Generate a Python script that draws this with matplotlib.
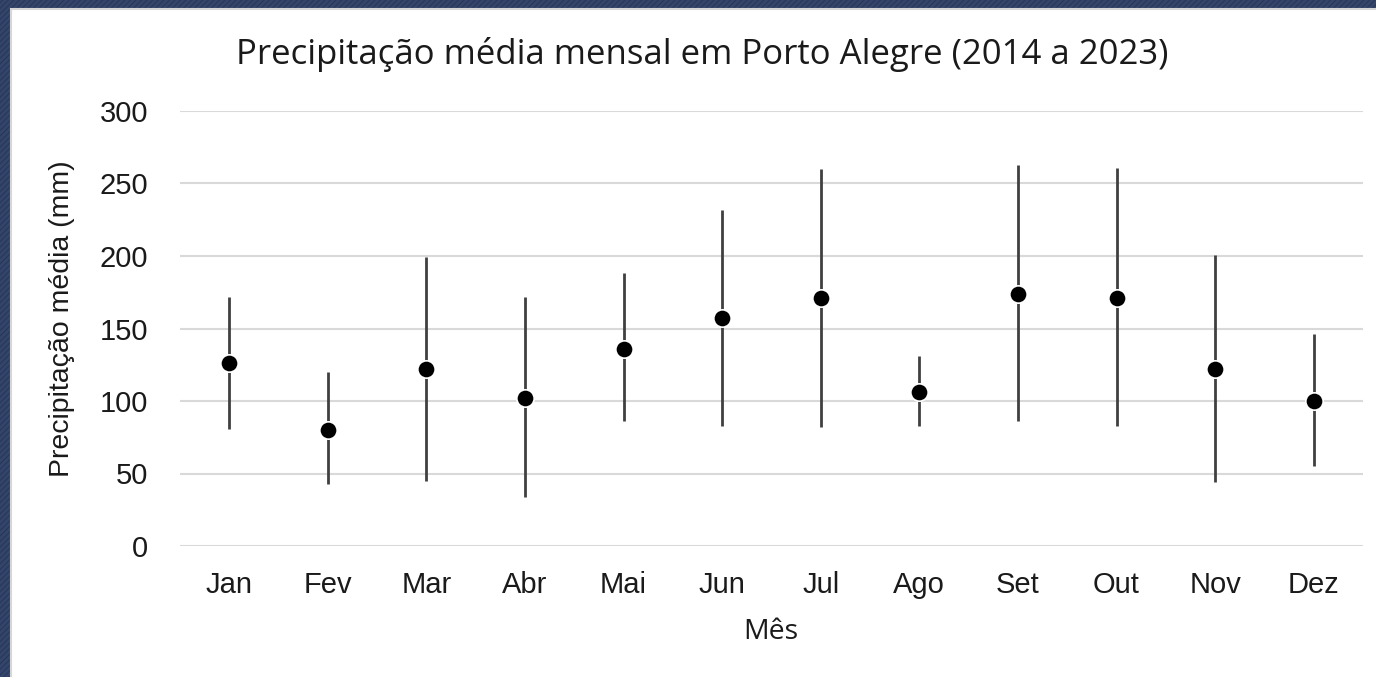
import matplotlib
matplotlib.use("Agg")
import matplotlib.pyplot as plt
from matplotlib.patches import Rectangle

months = ["Jan", "Fev", "Mar", "Abr", "Mai", "Jun", "Jul", "Ago", "Set", "Out", "Nov", "Dez"]
mean_mm = [126, 80, 122, 102, 136, 157, 171, 106, 174, 171, 122, 100]
min_mm = [81, 43, 45, 34, 86, 83, 82, 83, 86, 83, 44, 55]
max_mm = [172, 120, 199, 172, 188, 232, 260, 131, 263, 261, 201, 146]
yticks = [0, 50, 100, 150, 200, 250, 300]

W, H = 1376, 677
plt.rcParams['hatch.linewidth'] = 2.0
fig = plt.figure(figsize=(W / 100, H / 100), dpi=100)
fig.patch.set_facecolor("white")

# hatched navy frame + white panel
bg = Rectangle((0, 0), 1, 1, transform=fig.transFigure, facecolor="#283759",
               edgecolor="#34456b", hatch="//////", linewidth=0, zorder=-10)
fig.patches.append(bg)
px0, py_top = 11.5 / W, 8.5 / H
panel = Rectangle((px0, -0.01), 1.02 - px0, 1 - py_top + 0.01, transform=fig.transFigure,
                  facecolor="white", edgecolor="#d6d6d6", linewidth=1.5, zorder=-9)
fig.patches.append(panel)

ax = fig.add_axes([180 / W, (H - 546) / H, 1183 / W, 435 / H])
ax.set_facecolor("none")
x = list(range(len(months)))
ax.vlines(x, min_mm, max_mm, color="#404040", linewidth=2.0, zorder=3)
ax.plot(x, mean_mm, linestyle="none", marker="o", markersize=12.5,
        markerfacecolor="black", markeredgecolor="white", markeredgewidth=1.2, zorder=4)

ax.set_xlim(-0.5, len(months) - 0.5)
ax.set_ylim(0, 300)
ax.set_yticks(yticks)
ax.set_xticks(x)
ax.set_xticklabels(months)
ax.yaxis.grid(True, color="#d9d9d9", linewidth=1.5, zorder=0)
ax.set_axisbelow(True)
for s in ax.spines.values():
    s.set_visible(False)
ax.tick_params(axis="both", length=0, labelsize=21, labelcolor="#1a1a1a",
               labelfontfamily="Liberation Sans")
ax.tick_params(axis="x", pad=18)
ax.tick_params(axis="y", pad=23)

fig.text(771 / W, 1 - 632 / H, "Mês", ha="center", va="center",
         fontsize=20.5, family="Open Sans", color="#1a1a1a")
fig.text(62 / W, 1 - 319 / H, "Precipitação média (mm)", ha="center", va="center",
         rotation=90, fontsize=20.5, family="Liberation Sans", color="#1a1a1a")

fig.text(702 / W, 1 - 54 / H, "Precipitação média mensal em Porto Alegre (2014 a 2023)",
         ha="center", va="center", fontsize=25, family="Open Sans", color="#1a1a1a")

fig.savefig("out.png", dpi=100, facecolor=fig.get_facecolor())
